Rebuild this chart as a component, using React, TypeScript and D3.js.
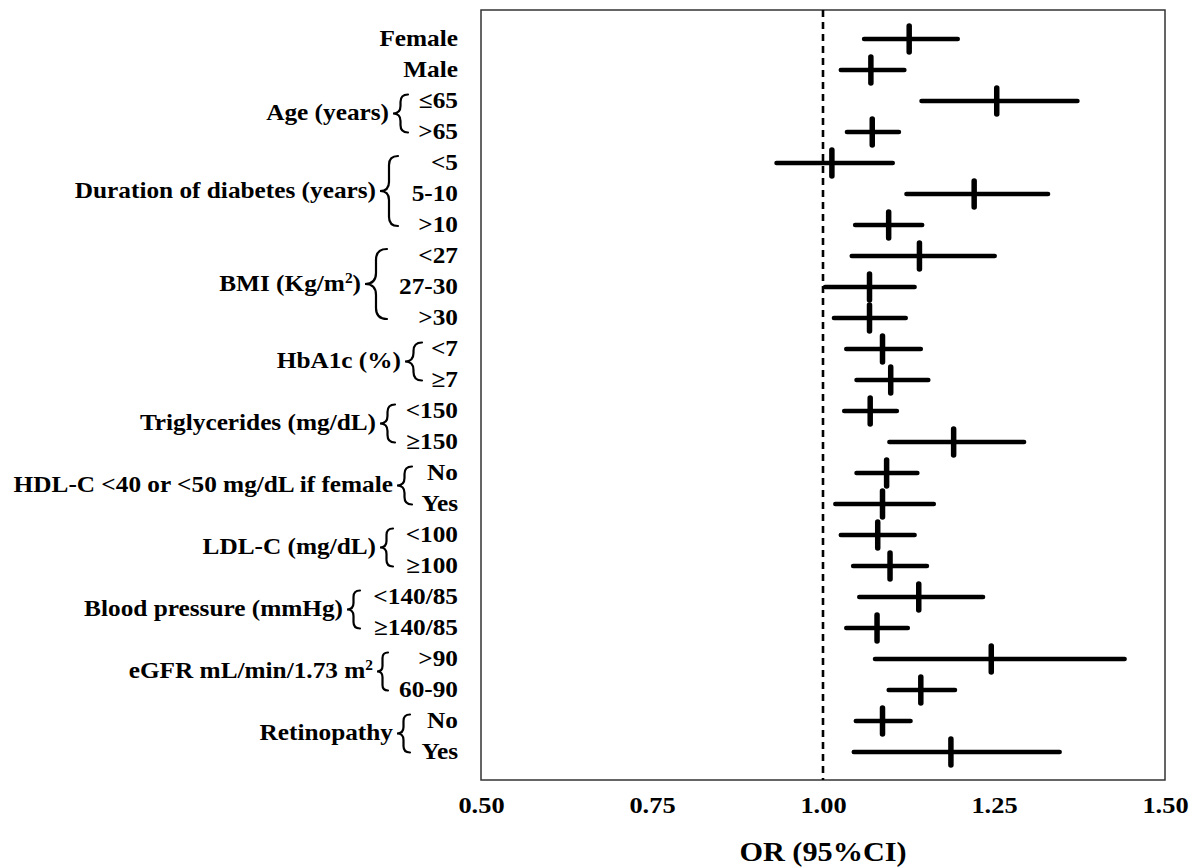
import { useEffect, useRef } from 'react'
import * as d3 from 'd3'

// rows, top to bottom
const rowLabels = ['Female', 'Male', '≤65', '>65', '<5', '5-10', '>10', '<27', '27-30', '>30', '<7', '≥7', '<150', '≥150', 'No', 'Yes', '<100', '≥100', '<140/85', '≥140/85', '>90', '60-90', 'No', 'Yes']
const orValues = [1.126, 1.07, 1.254, 1.072, 1.013, 1.221, 1.096, 1.141, 1.068, 1.068, 1.087, 1.099, 1.069, 1.191, 1.093, 1.087, 1.08, 1.098, 1.14, 1.079, 1.246, 1.143, 1.087, 1.187]
const lowerCI = [1.06, 1.026, 1.144, 1.035, 0.932, 1.122, 1.047, 1.042, 1.003, 1.016, 1.034, 1.049, 1.031, 1.097, 1.049, 1.018, 1.026, 1.044, 1.053, 1.034, 1.076, 1.096, 1.048, 1.045]
const upperCI = [1.197, 1.119, 1.372, 1.111, 1.102, 1.329, 1.145, 1.251, 1.134, 1.121, 1.143, 1.154, 1.108, 1.294, 1.138, 1.162, 1.134, 1.152, 1.234, 1.124, 1.441, 1.193, 1.128, 1.346]

// grouped rows
const groupNames = ['Age (years)', 'Duration of diabetes (years)', 'BMI (Kg/m²)', 'HbA1c (%)', 'Triglycerides (mg/dL)', 'HDL-C <40 or <50 mg/dL if female', 'LDL-C (mg/dL)', 'Blood pressure (mmHg)', 'eGFR mL/min/1.73 m²', 'Retinopathy']
const groupStart = [2, 4, 7, 10, 12, 14, 16, 18, 20, 22]
const groupSize = [2, 3, 3, 2, 2, 2, 2, 2, 2, 2]

const xTicks = [0.5, 0.75, 1, 1.25, 1.5]
const axisTitle = 'OR (95%CI)'

// brace placement (left cusp x, width) per group
const braceX = [393, 380, 365, 405, 380, 397, 380, 347, 377, 397]
const braceW = [15, 18, 22, 17, 15, 15, 13, 13, 11, 13]

const FONT = '"Liberation Serif", "Times New Roman", serif'
const SX = 1.1

function bracePath(x0: number, w: number, yc: number, h: number) {
  const x1 = x0 + w
  const xm = x0 + w / 2
  const top = yc - h / 2
  const bot = yc + h / 2
  const r = Math.min(w / 2, h / 4)
  return `M${x1},${top} Q${xm},${top} ${xm},${top + r} L${xm},${yc - r} Q${xm},${yc} ${x0},${yc} Q${xm},${yc} ${xm},${yc + r} L${xm},${bot - r} Q${xm},${bot} ${x1},${bot}`
}

function ForestPlot() {
  const svgRef = useRef<SVGSVGElement>(null)

  useEffect(() => {
    if (!svgRef.current) return
    document.body.style.margin = '0'
    const svg = d3.select(svgRef.current)
    svg.selectAll('*').remove()

    const left = 481
    const right = 1165
    const top = 10
    const bottom = 780

    const x = d3.scaleLinear().domain([0.5, 1.5]).range([left, right])
    const y = d3.scalePoint<number>().domain(d3.range(rowLabels.length)).range([39, 752])

    const g = svg.append('g').style('font-family', FONT).style('font-weight', 'bold')

    // frame
    g.append('rect')
      .attr('x', left)
      .attr('y', top)
      .attr('width', right - left)
      .attr('height', bottom - top)
      .attr('fill', 'none')
      .attr('stroke', '#333')
      .attr('stroke-width', 1.5)

    // reference line at OR = 1
    g.append('line')
      .attr('x1', x(1))
      .attr('x2', x(1))
      .attr('y1', top)
      .attr('y2', bottom)
      .attr('stroke', '#000')
      .attr('stroke-width', 2.6)
      .attr('stroke-dasharray', '7,5')

    // CI lines
    g.selectAll('.ci')
      .data(rowLabels.map((_, i) => i))
      .enter()
      .append('line')
      .attr('class', 'ci')
      .attr('x1', (i) => x(lowerCI[i]))
      .attr('x2', (i) => x(upperCI[i]))
      .attr('y1', (i) => y(i)!)
      .attr('y2', (i) => y(i)!)
      .attr('stroke', '#000')
      .attr('stroke-width', 4.5)
      .attr('stroke-linecap', 'round')

    // point estimates
    g.selectAll('.pt')
      .data(rowLabels.map((_, i) => i))
      .enter()
      .append('line')
      .attr('class', 'pt')
      .attr('x1', (i) => x(orValues[i]))
      .attr('x2', (i) => x(orValues[i]))
      .attr('y1', (i) => y(i)! - 13)
      .attr('y2', (i) => y(i)! + 13)
      .attr('stroke', '#000')
      .attr('stroke-width', 5.5)
      .attr('stroke-linecap', 'round')

    // row labels
    rowLabels.forEach((lab, i) => {
      g.append('text')
        .attr('transform', `translate(458,${y(i)! + 6.5}) scale(${SX},1)`)
        .attr('text-anchor', 'end')
        .style('font-size', '23px')
        .text(lab)
    })

    // group labels + braces
    groupNames.forEach((name, k) => {
      const first = y(groupStart[k])!
      const last = y(groupStart[k] + groupSize[k] - 1)!
      const mid = (first + last) / 2
      const t = g.append('text')
        .attr('transform', `translate(${braceX[k] - 4},${mid + 3.5}) scale(${SX},1)`)
        .attr('text-anchor', 'end')
        .style('font-size', '23px')
      const parts = name.split('²')
      t.append('tspan').text(parts[0])
      if (parts.length > 1) {
        t.append('tspan').attr('baseline-shift', 'super').style('font-size', '14px').text('2')
        if (parts[1]) t.append('tspan').text(parts[1])
      }
      const h = groupSize[k] === 3 ? 70 : 38
      g.append('path')
        .attr('d', bracePath(braceX[k], braceW[k], mid - 3, h))
        .attr('fill', 'none')
        .attr('stroke', '#000')
        .attr('stroke-width', 2.2)
        .attr('stroke-linecap', 'round')
    })

    // x axis
    const axis = g.append('g')
      .attr('transform', `translate(0,${bottom})`)
      .call(d3.axisBottom(x).tickValues(xTicks).tickFormat(d3.format('.2f')).tickSize(0).tickPadding(16))
    axis.select('.domain').remove()
    axis.selectAll('text')
      .attr('transform', `scale(${SX},1)`)
      .style('font-family', FONT)
      .style('font-weight', 'bold')
      .style('font-size', '24px')
      .attr('fill', '#000')

    g.append('text')
      .attr('transform', `translate(${x(1)},861) scale(1.08,1)`)
      .attr('text-anchor', 'middle')
      .style('font-size', '28px')
      .text(axisTitle)
  }, [])

  return <svg ref={svgRef} width={1191} height={868} style={{ display: 'block', background: '#fff' }} />
}

export default function App() {
  return <ForestPlot />
}
